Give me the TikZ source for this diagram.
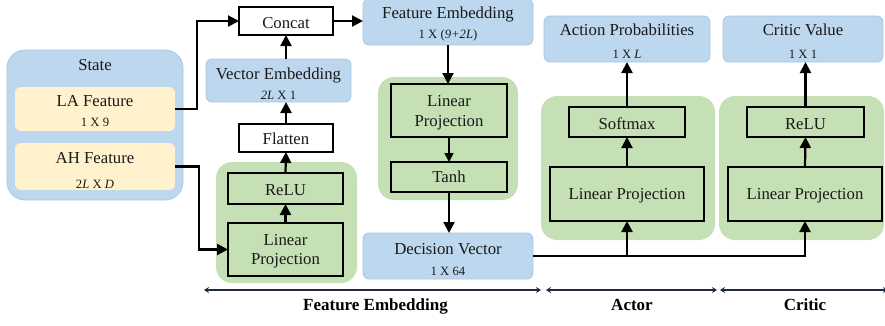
\documentclass[tikz,border=0pt]{standalone}
\usepackage{fontspec}
\setmainfont{Liberation Serif}
\usetikzlibrary{arrows.meta}
\definecolor{bluefill}{HTML}{BDD7EE}
\definecolor{blueline}{HTML}{A9C6E4}
\definecolor{yellowfill}{HTML}{FFF2CC}
\definecolor{greenfill}{HTML}{C5E0B4}
\definecolor{txt}{HTML}{1A1A1A}
\definecolor{dimcol}{HTML}{1F2A40}
\tikzset{
 bluebox/.style={draw=blueline, line width=0.8pt, fill=bluefill, rounded corners=6pt, inner sep=0pt, outer sep=0pt},
 statebox/.style={draw=blueline, line width=0.8pt, fill=bluefill, rounded corners=18pt, inner sep=0pt, outer sep=0pt},
 yellowbox/.style={fill=yellowfill, rounded corners=6pt, inner sep=0pt, outer sep=0pt},
 group/.style={fill=greenfill, rounded corners=16pt, inner sep=0pt, outer sep=0pt},
 layer/.style={draw=black, line width=1.1pt, fill=greenfill, inner sep=0pt, outer sep=0pt},
 whitebox/.style={draw=black, line width=1.1pt, fill=white, inner sep=0pt, outer sep=0pt},
 lbl/.style={anchor=base, inner sep=0pt, text=txt, font=\fontsize{16.75}{20}\selectfont},
 sub/.style={anchor=base, inner sep=0pt, text=txt, font=\fontsize{12.7}{15}\selectfont},
 sect/.style={anchor=base, inner sep=0pt, text=black, font=\fontsize{17}{20}\selectfont\bfseries},
 flow/.style={line width=2.2pt, draw=black, -{Triangle[length=11pt,width=11pt]}},
 thinflow/.style={line width=1.6pt, draw=black, -{Triangle[length=9pt,width=9pt]}},
 dimline/.style={line width=1.2pt, draw=dimcol, {Stealth[length=5pt,width=6pt]}-{Stealth[length=5pt,width=6pt]}}
}
\begin{document}
\begin{tikzpicture}[x=1pt,y=-1pt]
\useasboundingbox (0,0) rectangle (885,325);

% ---------- State ----------
\node[statebox, minimum width=176pt, minimum height=150pt] (state) at (95,125) {};
\node[lbl] (statet) at (95,70) {State};
\node[yellowbox, minimum width=160pt, minimum height=44pt] (la) at (95,109) {};
\node[lbl] (lat) at (95,106) {LA Feature};
\node[sub] (las) at (95,126) {1 X 9};
\node[yellowbox, minimum width=160pt, minimum height=47pt] (ah) at (95,166.5) {};
\node[lbl] (aht) at (95,163) {AH Feature};
\node[sub] (ahs) at (95,188) {2\textit{L} X \textit{D}};

% ---------- Feature embedding column 1 ----------
\node[whitebox, minimum width=94pt, minimum height=28pt] (concat) at (286,21) {};
\node[lbl] (concatt) at (286,28) {Concat};
\node[bluebox, minimum width=145pt, minimum height=43pt] (vec) at (278.5,80.5) {};
\node[lbl] (vect) at (278.5,79) {Vector Embedding};
\node[sub] (vecs) at (278.5,99) {\textit{2L} X 1};
\node[whitebox, minimum width=94pt, minimum height=28pt] (flat) at (286,138) {};
\node[lbl] (flatt) at (286,144) {Flatten};
\node[group, minimum width=141pt, minimum height=121pt] (g1) at (286.5,222.5) {};
\node[layer, minimum width=115pt, minimum height=31pt] (relu1) at (285.5,188.5) {};
\node[lbl] (relu1t) at (285.5,195) {ReLU};
\node[layer, minimum width=115pt, minimum height=53pt] (lp1) at (285.5,249.5) {};
\node[lbl] (lp1a) at (285.5,245.5) {Linear};
\node[lbl] (lp1b) at (285.5,264.5) {Projection};

% ---------- Feature embedding column 2 ----------
\node[bluebox, minimum width=170pt, minimum height=46pt] (fe) at (448,22) {};
\node[lbl] (fet) at (448,18) {Feature Embedding};
\node[sub] (fes) at (448,38) {1 X (\textit{9+2L})};
\node[group, minimum width=140pt, minimum height=123pt] (g2) at (448,138.5) {};
\node[layer, minimum width=116pt, minimum height=53pt] (lp2) at (449,110.5) {};
\node[lbl] (lp2a) at (449,106.5) {Linear};
\node[lbl] (lp2b) at (449,126) {Projection};
\node[layer, minimum width=116pt, minimum height=30pt] (tanh) at (449,177) {};
\node[lbl] (tanht) at (449,182.5) {Tanh};
\node[bluebox, minimum width=170pt, minimum height=46pt] (dv) at (448,256) {};
\node[lbl] (dvt) at (448,254) {Decision Vector};
\node[sub] (dvs) at (448,275) {1 X 64};

% ---------- Actor ----------
\node[bluebox, minimum width=166pt, minimum height=46pt] (ap) at (627,39) {};
\node[lbl] (apt) at (627,35) {Action Probabilities};
\node[sub] (aps) at (627,58) {1 X \textit{L}};
\node[group, minimum width=174pt, minimum height=144pt] (g3) at (628,168) {};
\node[layer, minimum width=116pt, minimum height=30pt] (soft) at (627,122) {};
\node[lbl] (softt) at (627,129) {Softmax};
\node[layer, minimum width=154pt, minimum height=54pt] (alp) at (627,194) {};
\node[lbl] (alpt) at (627,199.5) {Linear Projection};

% ---------- Critic ----------
\node[bluebox, minimum width=160pt, minimum height=46pt] (cv) at (803,39) {};
\node[lbl] (cvt) at (803,35) {Critic Value};
\node[sub] (cvs) at (803,58) {1 X 1};
\node[group, minimum width=165pt, minimum height=144pt] (g4) at (801.5,168) {};
\node[layer, minimum width=117pt, minimum height=30pt] (crelu) at (805.5,122) {};
\node[lbl] (crelut) at (805.5,129) {ReLU};
\node[layer, minimum width=154pt, minimum height=54pt] (clp) at (805,194) {};
\node[lbl] (clpt) at (805,199.5) {Linear Projection};

% ---------- connectors ----------
\draw[flow] (la.east) -- ++(22,0) |- (concat.west);
\draw[flow] (ah.east) -- ++(24,0) |- (lp1.west);
\draw[flow] (lp1.north) -- (relu1.south);
\draw[flow] (relu1.north) -- (flat.south);
\draw[flow] (flat.north) -- (flat.north |- vec.south);
\draw[flow] (concat.south |- vec.north) -- (concat.south);
\draw[flow] (concat.east) -- (concat.east -| fe.west);
\draw[flow] (fe.south) -- (fe.south |- lp2.north);
\draw[thinflow] (lp2.south) -- (tanh.north);
\draw[flow] (tanh.south) -- (tanh.south |- dv.north);
\draw[flow] (dv.east) -| (clp.south);
\draw[flow] (alp.south |- dv.east) -- (alp.south);
\draw[flow] (alp.north) -- (soft.south);
\draw[flow] (soft.north) -- (soft.north |- ap.south);
\draw[flow] (clp.north) -- (crelu.south);
\draw[flow] (crelu.north) -- (crelu.north |- cv.south);

% ---------- section markers ----------
\coordinate (d1) at (204,290);
\coordinate (d2) at (541,290);
\coordinate (d3) at (546,290);
\coordinate (d4) at (717,290);
\coordinate (d5) at (720,290);
\coordinate (d6) at (888,290);
\draw[dimline] (d1) -- (d2);
\draw[dimline] (d3) -- (d4);
\draw[dimline] (d5) -- (d6);
\node[sect] (secfe) at (375.5,310) {Feature Embedding};
\node[sect] (secac) at (632,310) {Actor};
\node[sect] (seccr) at (805,310) {Critic};
\end{tikzpicture}
\end{document}
